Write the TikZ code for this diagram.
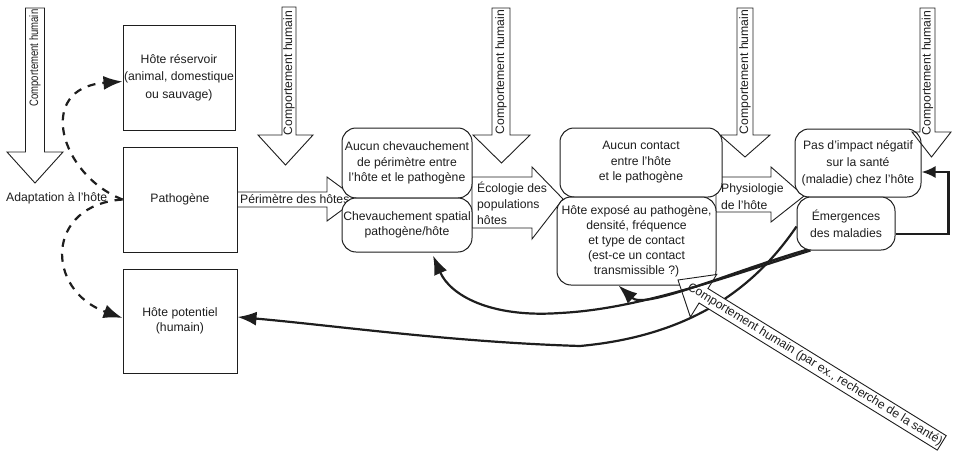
\documentclass[tikz,border=0pt]{standalone}
\usepackage{fontspec}
\usepackage{graphicx}
\setmainfont{Liberation Sans}
\usetikzlibrary{arrows.meta}

\definecolor{ink}{HTML}{1E1E1E}

% vertical block arrow: style, shaft x1, shaft x2, top, head x1, head x2, head base, tip
\newcommand\vblock[8]{\draw[#1] (#2,#4) -- (#3,#4) -- (#3,#7) -- (#6,#7) -- ({(#5+#6)/2},#8) -- (#5,#7) -- (#2,#7) -- cycle;}
% horizontal block arrow: left, shaft y1, shaft y2, head base x, head y1, head y2, tip x, tip y
\newcommand\hblock[8]{\draw[blockarrow] (#1,#2) -- (#4,#2) -- (#4,#5) -- (#7,#8) -- (#4,#6) -- (#4,#3) -- (#1,#3) -- cycle;}

\begin{document}
\begin{tikzpicture}[x=1pt,y=-1pt,
  every node/.style={text=ink, font=\fontsize{12.2}{15.5}\selectfont},
  blockarrow/.style={draw=ink, line width=0.9pt, fill=white, line join=miter},
  openarrow/.style={draw=ink, line width=0.9pt, line join=miter},
  vlabel/.style={rotate=90, inner sep=0pt},
  sqbox/.style={draw=ink, line width=1pt, fill=white, inner sep=0pt, align=center},
  rbox/.style={sqbox, rounded corners=14pt},
  conn/.style={draw=ink, line width=2.2pt, -{Latex[length=19pt,width=14pt]}},
  dconn/.style={conn, dash pattern=on 8pt off 7pt},
]
\useasboundingbox (0,0) rectangle (953,455);

% human behaviour arrows from the top
\vblock{blockarrow}{25.5}{44.5}{8}{7}{63}{152}{183}
\vblock{blockarrow}{282}{296}{7}{258}{313}{135}{165}
\vblock{blockarrow}{492}{510}{8}{473}{530}{135}{163}
\vblock{blockarrow}{737}{753}{8}{720}{770}{135}{157}
\node[vlabel] (ch1) at (35,58) {\scalebox{0.78}[1]{Comportement humain}};
\node[vlabel] (ch2) at (289,73) {Comportement humain};
\node[vlabel] (ch3) at (501,72) {Comportement humain};
\node[vlabel] (ch4) at (745,72) {Comportement humain};

% horizontal flow arrows
\hblock{237}{192}{207}{327}{177}{221}{357}{199}
\hblock{472}{177}{228}{532}{167}{239}{563}{199}
\hblock{716}{177}{212}{771}{167}{222}{804}{196}
\node[anchor=west, inner sep=0pt] (perim) at (240,199.5) {Périmètre des hôtes};
\node[anchor=west, align=left, inner sep=0pt, font=\fontsize{12.2}{16}\selectfont] (eco) at (477,203) {Écologie des\\populations\\hôtes};
\node[anchor=west, align=left, inner sep=0pt, font=\fontsize{12.2}{16.5}\selectfont] (physio) at (721,196.5) {Physiologie\\de l'hôte};
\node[anchor=west, inner sep=0pt] (adapt) at (6,198) {Adaptation à l'hôte};

% hosts and pathogen
\node[sqbox, minimum width=112pt, minimum height=105pt, font=\fontsize{12.2}{17.5}\selectfont] (res) at (179,77.5) {Hôte réservoir\\(animal, domestique\\ou sauvage)};
\node[sqbox, minimum width=114pt, minimum height=105pt] (pat) at (180,199.5) {Pathogène};
\node[sqbox, minimum width=114pt, minimum height=104pt] (pot) at (180,321) {Hôte potentiel\\(humain)};

% outcome boxes
\node[rbox, minimum width=130pt, minimum height=70pt] (A) at (407,163) {Aucun chevauchement\\de périmètre entre\\l'hôte et le pathogène};
\node[rbox, minimum width=130pt, minimum height=54pt] (B) at (407,225) {Chevauchement spatial\\pathogène/hôte};
\node[rbox, minimum width=162pt, minimum height=69pt] (C) at (641,162.5) {Aucun contact\\entre l'hôte\\et le pathogène};
\node[rbox, minimum width=159pt, minimum height=88pt, font=\fontsize{12.2}{15}\selectfont] (D) at (636.5,241) {Hôte exposé au pathogène,\\densité, fréquence\\et type de contact\\(est-ce un contact\\transmissible ?)};
\node[rbox, minimum width=126pt, minimum height=68pt, font=\fontsize{12.2}{17}\selectfont] (E) at (858,163) {Pas d’impact négatif\\sur la santé\\(maladie) chez l'hôte};
\node[rbox, minimum width=98pt, minimum height=53pt, font=\fontsize{12.2}{17}\selectfont] (F) at (846,223.5) {Émergences\\des maladies};

% emergence back to the potential human host
\draw[conn] ([yshift=-3pt]F.west) .. controls (760,280) and (700,335) .. (580,346)
  .. controls (450,342) and (330,325) .. ([yshift=4pt]pot.east);

% health-seeking behaviour arrow
\begin{scope}[shift={(678,280)}, rotate=-31.7]
  \draw[blockarrow] (0,0) -- (30,-25) -- (30,-8.5) -- (310,-8.5) -- (310,8.5) -- (30,8.5) -- (30,25) -- cycle;
  \node[transform shape, inner sep=0pt] (chd) at (161,0) {Comportement humain (par ex., recherche de la santé)};
\end{scope}

% emergence feedback loops
\draw[conn] ([xshift=11pt,yshift=1pt]F.south west) .. controls (730,272) and (645,310) .. ([xshift=-18pt]D.south);
\draw[conn] ([xshift=14pt]F.south west) .. controls (725,277) and (640,309) .. (560,313)
  .. controls (490,318) and (450,295) .. ([xshift=26pt,yshift=-3pt]B.south);
\draw[draw=ink, line width=2.4pt, -{Latex[length=14pt,width=12pt]}] ([yshift=-10.5pt]F.east) -- ++(53,0) |- ([yshift=-9pt]E.east);

% adaptation of the pathogen to hosts
\draw[dconn] (pat.west) .. controls (60,175) and (35,88) .. ([yshift=-4pt]res.west);
\draw[dconn] (pat.west) .. controls (45,205) and (45,290) .. ([yshift=3pt]pot.west);

% rightmost human behaviour arrow
\vblock{openarrow}{920}{935}{8}{912}{951}{132}{157}
\node[vlabel] (ch5) at (927.5,73) {Comportement humain};
\end{tikzpicture}
\end{document}
